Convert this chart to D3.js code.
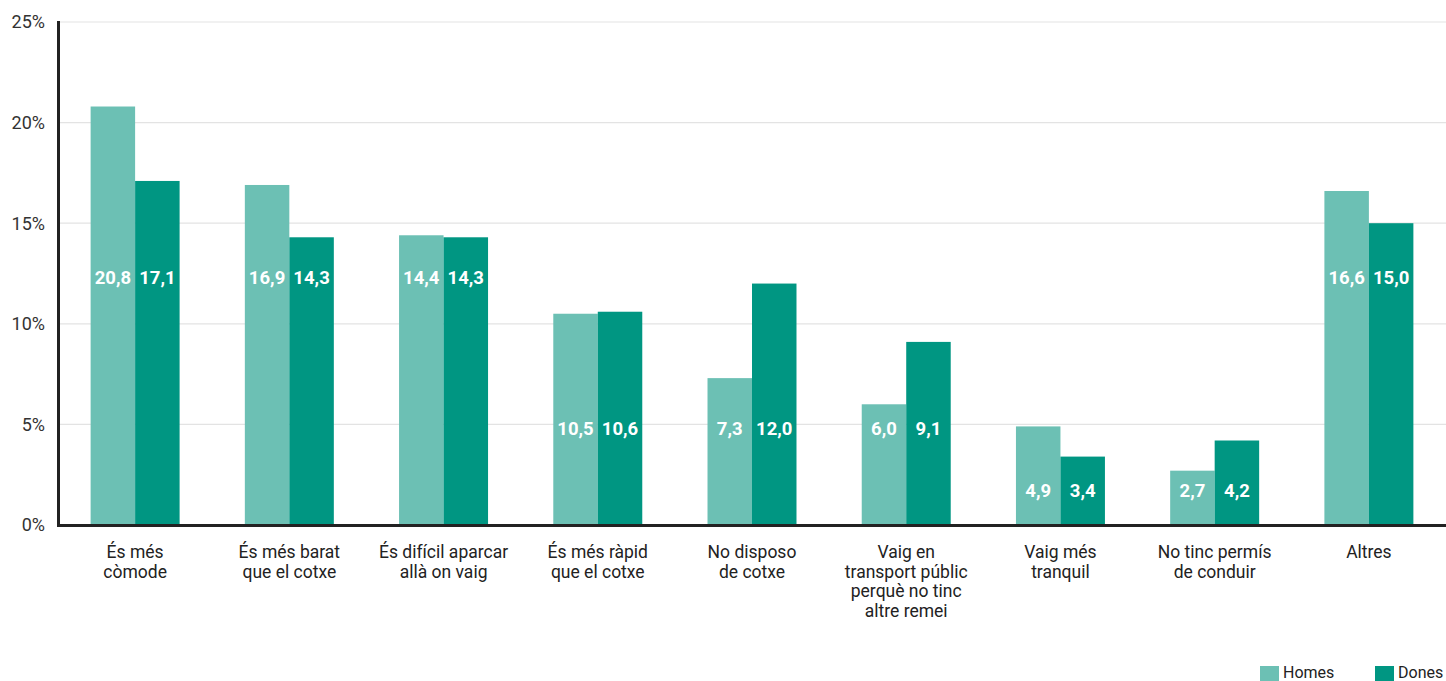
<!DOCTYPE html>
<html><head><meta charset="utf-8">
<script src="https://cdn.jsdelivr.net/npm/d3@7"></script>
<style>body{margin:0;background:#fff}svg{display:block}</style>
</head><body>
<svg id="c" width="1446" height="681"></svg>
<script>
const categories = [
  ["És més","còmode"],
  ["És més barat","que el cotxe"],
  ["És difícil aparcar","allà on vaig"],
  ["És més ràpid","que el cotxe"],
  ["No disposo","de cotxe"],
  ["Vaig en","transport públic","perquè no tinc","altre remei"],
  ["Vaig més","tranquil"],
  ["No tinc permís","de conduir"],
  ["Altres"]
];
const homes = [20.8,16.9,14.4,10.5,7.3,6.0,4.9,2.7,16.6];
const dones = [17.1,14.3,14.3,10.6,12.0,9.1,3.4,4.2,15.0];
const series = ["Homes","Dones"];
const yTicks = [0,5,10,15,20,25];
const colors = ["#6cc0b4","#009682"];

const svg = d3.select("#c");
const font = "Roboto, 'DejaVu Sans', sans-serif";
const x = d3.scaleBand().domain(d3.range(categories.length)).range([58,1446])
  .paddingInner(0.423).paddingOuter(0.2115);
const xs = d3.scaleBand().domain(series).range([0,x.bandwidth()]);
const y = d3.scaleLinear().domain([0,25]).range([525,22]);

// grid
svg.append("g").selectAll("line").data(yTicks.slice(1)).join("line")
  .attr("x1",58).attr("x2",1446).attr("y1",d=>y(d)).attr("y2",d=>y(d))
  .attr("stroke","#e3e3e3").attr("stroke-width",1.2);

// y tick labels
svg.append("g").selectAll("text").data(yTicks).join("text")
  .attr("x",45).attr("y",d=>y(d)).attr("dy","0.36em").attr("text-anchor","end")
  .attr("font-family",font).attr("font-size",18).attr("fill","#333")
  .text(d=>d+"%");

const data = categories.map((c,i)=>({i, vals:[homes[i],dones[i]]}));
const g = svg.append("g").selectAll("g").data(data).join("g")
  .attr("transform",d=>`translate(${x(d.i)},0)`);
g.selectAll("rect").data(d=>d.vals.map((v,k)=>({v,k}))).join("rect")
  .attr("x",d=>xs(series[d.k])).attr("width",xs.bandwidth())
  .attr("y",d=>y(d.v)).attr("height",d=>y(0)-y(d.v))
  .attr("fill",d=>colors[d.k]);

function labelLevel(vals){
  const m = d3.min(vals);
  if (m >= 14) return 12.3;
  if (m >= 6) return 4.8;
  return 1.7;
}
g.each(function(d){
  const lv = labelLevel(d.vals);
  d3.select(this).selectAll("text.v").data(d.vals.map((v,k)=>({v,k}))).join("text")
    .attr("class","v")
    .attr("x",e=>xs(series[e.k])+xs.bandwidth()/2).attr("y",y(lv)).attr("dy","0.36em")
    .attr("text-anchor","middle").attr("font-family",font).attr("font-weight","bold")
    .attr("font-size",18.5).attr("fill","#fff")
    .text(e=>e.v.toFixed(1).replace(".",","));
});

// axes lines
svg.append("line").attr("x1",58.5).attr("x2",58.5).attr("y1",21).attr("y2",526.5)
  .attr("stroke","#222").attr("stroke-width",3);
svg.append("line").attr("x1",57).attr("x2",1446).attr("y1",525.5).attr("y2",525.5)
  .attr("stroke","#222").attr("stroke-width",3);

// category labels
svg.append("g").selectAll("text").data(categories).join("text")
  .attr("x",(d,i)=>x(i)+x.bandwidth()/2).attr("y",558)
  .attr("text-anchor","middle").attr("font-family",font).attr("font-size",17.5).attr("fill","#222")
  .each(function(lines){
    d3.select(this).selectAll("tspan").data(lines).join("tspan")
      .attr("x",d3.select(this).attr("x")).attr("dy",(l,j)=>j?19.5:0).text(l=>l);
  });

// legend
const leg = svg.append("g");
const legX = [1260,1375];
series.forEach((s,k)=>{
  leg.append("rect").attr("x",legX[k]).attr("y",666).attr("width",19).attr("height",15).attr("fill",colors[k]);
  leg.append("text").attr("x",legX[k]+23).attr("y",672).attr("dy","0.36em")
    .attr("font-family",font).attr("font-size",16).attr("fill","#222").text(s);
});
</script>
</body></html>
